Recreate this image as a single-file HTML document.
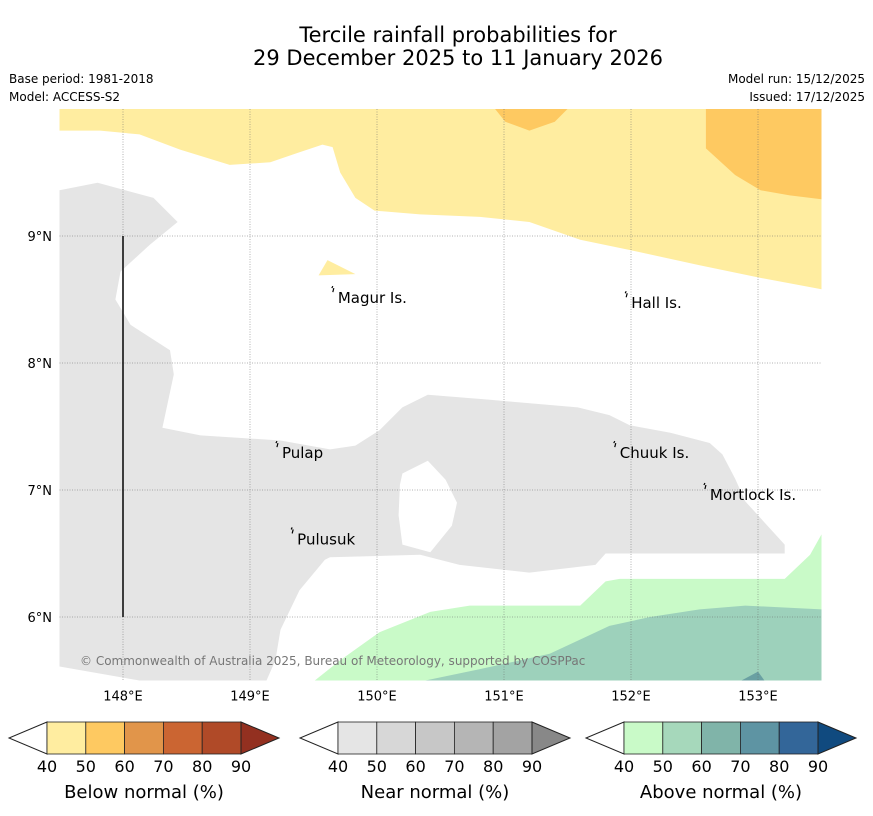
<!DOCTYPE html>
<html><head><meta charset="utf-8"><style>
body{margin:0;background:#fff;font-family:"DejaVu Sans","Liberation Sans",sans-serif}
svg{display:block}
</style></head><body>
<svg id="c" width="873" height="816" viewBox="0 0 873 816" font-family="DejaVu Sans, Liberation Sans, sans-serif">
<text x="458" y="42" font-size="21" text-anchor="middle">Tercile rainfall probabilities for</text>
<text x="458" y="65" font-size="21" text-anchor="middle">29 December 2025 to 11 January 2026</text>
<text x="9" y="83" font-size="12">Base period: 1981-2018</text>
<text x="9" y="101" font-size="12">Model: ACCESS-S2</text>
<text x="865" y="83" font-size="12" text-anchor="end">Model run: 15/12/2025</text>
<text x="865" y="101" font-size="12" text-anchor="end">Issued: 17/12/2025</text>
<g id="map"></g>
<g id="bars"></g>
</svg>
<script>
const lonTicks=[148,149,150,151,152,153];
const latTicks=[6,7,8,9];
const extent=[147.5,153.5,5.5,10.0];
const X=lon=>123+(lon-148)*127;
const Y=lat=>236-(lat-9)*127;
const greyOuter=[[147.5,9.36],[147.8,9.42],[148.24,9.3],[148.43,9.11],[148.21,8.93],[147.98,8.72],[147.94,8.5],[148.06,8.3],[148.37,8.1],[148.4,7.91],[148.31,7.49],[148.61,7.43],[149.24,7.39],[149.63,7.32],[149.83,7.35],[150.02,7.47],[150.2,7.65],[150.4,7.75],[150.89,7.71],[151.58,7.65],[151.83,7.59],[151.99,7.51],[152.31,7.45],[152.62,7.37],[152.72,7.28],[152.82,7.09],[152.9,6.91],[153.21,6.57],[153.21,6.5],[151.8,6.5],[151.72,6.41],[151.2,6.35],[150.65,6.41],[150.34,6.49],[149.63,6.47],[149.59,6.45],[149.39,6.21],[149.24,5.9],[149.2,5.66],[149.13,5.5],[148.13,5.5],[147.5,5.61]];
const greyHole=[[150.2,7.13],[150.4,7.23],[150.54,7.08],[150.63,6.9],[150.59,6.72],[150.42,6.51],[150.2,6.57],[150.17,6.8],[150.18,7.04]];
const yellowBelow=[[147.5,10],[153.5,10],[153.5,8.58],[153.02,8.67],[152.54,8.77],[151.99,8.89],[151.6,8.97],[151.2,9.11],[150.81,9.15],[150.34,9.17],[149.98,9.2],[149.83,9.3],[149.71,9.5],[149.65,9.7],[149.57,9.72],[149.39,9.66],[149.16,9.58],[148.84,9.56],[148.45,9.68],[148.13,9.8],[147.82,9.83],[147.5,9.83]];
const yellowSmall=[[149.54,8.69],[149.61,8.81],[149.83,8.7]];
const orangeTop=[[150.93,10],[151.01,9.9],[151.2,9.83],[151.4,9.9],[151.5,10]];
const orangeRight=[[152.59,10],[152.59,9.69],[152.82,9.48],[153.02,9.36],[153.25,9.32],[153.5,9.29],[153.5,10]];
const greenAbove=[[149.51,5.5],[149.71,5.66],[150.02,5.88],[150.42,6.04],[150.73,6.09],[151.6,6.09],[151.8,6.28],[151.91,6.3],[153.21,6.3],[153.41,6.49],[153.5,6.65],[153.5,5.5]];
const tealAbove=[[150.38,5.5],[150.81,5.59],[151.36,5.71],[151.83,5.93],[152.15,6.0],[152.54,6.06],[152.9,6.09],[153.5,6.06],[153.5,5.5]];
const darkAbove=[[152.87,5.5],[153.0,5.57],[153.05,5.5]];
const places=["Magur Is.","Hall Is.","Pulap","Chuuk Is.","Mortlock Is.","Pulusuk"];
const placeLon=[149.66,151.97,149.22,151.88,152.59,149.34];
const placeLat=[8.55,8.51,7.33,7.33,7.0,6.65];
const binLabels=["40","50","60","70","80","90"];
const belowColors=["#ffeda0","#fec961","#e1954a","#cb6532","#b04a28","#933020"];
const nearColors=["#e5e5e5","#d7d7d7","#c7c7c7","#b5b5b5","#a3a3a3","#888888"];
const aboveColors=["#c9fac8","#a6d8bb","#80b4a9","#5e94a3","#336699","#104a7f"];
const barTitles=["Below normal (%)","Near normal (%)","Above normal (%)"];

const NS="http://www.w3.org/2000/svg";
function mk(tag,attrs,parent){const e=document.createElementNS(NS,tag);for(const k in attrs)e.setAttribute(k,attrs[k]);parent.appendChild(e);return e;}
const pts=a=>a.map(p=>X(p[0]).toFixed(1)+","+Y(p[1]).toFixed(1)).join(" ");
const map=document.getElementById('map');
function poly(a,fill,name){const e=mk('polygon',{points:pts(a),fill:fill},map);

return e;}
poly(yellowBelow,'#ffeda0','below-normal-40-50-region');
poly(yellowSmall,'#ffeda0','below-normal-small-region');
poly(orangeTop,'#fec961','below-normal-50-60-top');
poly(orangeRight,'#fec961','below-normal-50-60-right');
const gp=mk('path',{d:'M'+pts(greyOuter)+'Z M'+pts(greyHole)+'Z',fill:'#e5e5e5','fill-rule':'evenodd'},map);


poly(greenAbove,'#c9fac8','above-normal-40-50-region');
poly(tealAbove,'#9dd1bb','above-normal-50-60-region');
poly(darkAbove,'#6aa0a2','above-normal-60-70-region');
lonTicks.forEach(l=>{const g=mk('line',{x1:X(l),x2:X(l),y1:Y(extent[3]),y2:Y(extent[2]),stroke:'#666','stroke-width':0.5,'stroke-dasharray':'1,1.5'},map);


const t=mk('text',{x:X(l),y:Y(extent[2])+20,'font-size':13,'text-anchor':'middle'},map);t.textContent=l+'°E';

});
latTicks.forEach(l=>{const g=mk('line',{x1:X(extent[0]),x2:X(extent[1]),y1:Y(l),y2:Y(l),stroke:'#666','stroke-width':0.5,'stroke-dasharray':'1,1.5'},map);


const t=mk('text',{x:52,y:Y(l)+5,'font-size':13,'text-anchor':'end'},map);t.textContent=l+'°N';

});
const vl=mk('line',{x1:X(148),x2:X(148),y1:Y(9),y2:Y(6),stroke:'#111','stroke-width':1.6},map);


places.forEach((p,i)=>{const x=X(placeLon[i]),y=Y(placeLat[i]);
const m=mk('path',{d:`M${x-2},${y-5} l1,-2 M${x-1},${y-1} l1,-4`,stroke:'#000','stroke-width':1.2,fill:'none'},map);


const t=mk('text',{x:x+4,y:y+10,'font-size':15},map);t.textContent=p;

});
const cp=mk('text',{x:80,y:665,'font-size':12,fill:'#777'},map);cp.textContent='© Commonwealth of Australia 2025, Bureau of Meteorology, supported by COSPPac';


const bars=document.getElementById('bars');
const barLeft=[47,338,624];const cw=38.8;
[belowColors,nearColors,aboveColors].forEach((cols,b)=>{const L=barLeft[b];
const g=mk('g',{},bars);


mk('polygon',{points:`${L},722 ${L-38},738 ${L},754`,fill:'#fff',stroke:'#222','stroke-width':1},g);
for(let i=0;i<5;i++)mk('rect',{x:L+i*cw,y:722,width:cw,height:32,fill:cols[i],stroke:'#222','stroke-width':0.8},g);
const R=L+5*cw;
mk('polygon',{points:`${R},722 ${R+38},738 ${R},754`,fill:cols[5],stroke:'#222','stroke-width':1},g);
binLabels.forEach((s,i)=>{const t=mk('text',{x:L+i*cw,y:772,'font-size':16,'text-anchor':'middle'},g);t.textContent=s;

});
const t=mk('text',{x:L+2.5*cw,y:798,'font-size':18,'text-anchor':'middle'},g);t.textContent=barTitles[b];

});
</script>
</body></html>
